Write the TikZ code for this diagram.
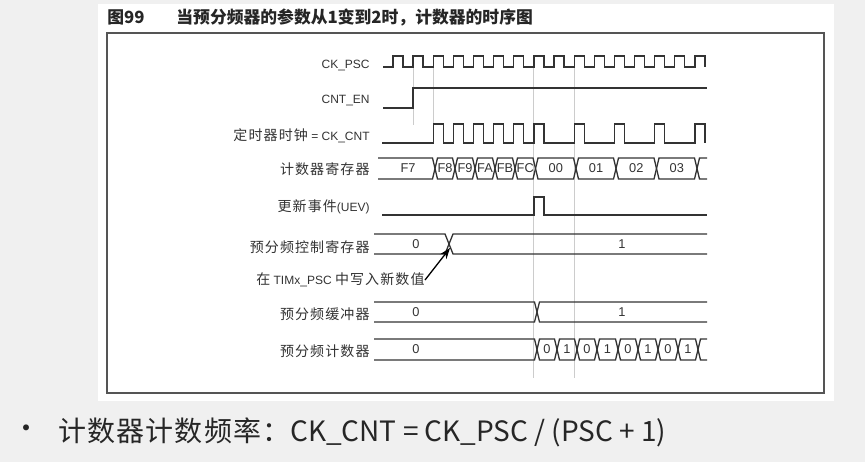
\documentclass[tikz,border=0pt]{standalone}
\usepackage{fontspec}
\setmainfont{Liberation Sans}
\newfontfamily\cjk{Noto Sans CJK SC}
\newfontfamily\cjklb{Noto Sans CJK SC}[LetterSpace=8]
\newfontfamily\cjkwide{Noto Sans CJK SC}[LetterSpace=4]
\usetikzlibrary{arrows.meta, positioning, calc}
\definecolor{pageGray}{HTML}{F0F0F0}
\definecolor{lineDark}{HTML}{333333}
\definecolor{frameGray}{HTML}{555555}
\definecolor{guideGray}{HTML}{CCCCCC}
\definecolor{textDark}{HTML}{262626}

\newcommand\zh[1]{{\cjklb\fontsize{7}{8}\selectfont #1}}
% bus value: from, to, mid y, value, name
\newcommand\busval[5]{%
  \draw[wave] (#1,#3) -- (#1+\bh,#3-\bv) -- (#2-\bh,#3-\bv) -- (#2,#3)
    -- (#2-\bh,#3+\bv) -- (#1+\bh,#3+\bv) -- cycle;
  \node[val] (#5) at ({(#1+#2)/2},#3) {#4};}
% bus open on the left / on the right: from, to, mid y
\newcommand\busopen[3]{%
  \draw[wave] (#1,#3-\bv) -- (#2-\bh,#3-\bv) -- (#2,#3) -- (#2-\bh,#3+\bv) -- (#1,#3+\bv);}
\newcommand\busclose[3]{%
  \draw[wave] (#2,#3-\bv) -- (#1+\bh,#3-\bv) -- (#1,#3) -- (#1+\bh,#3+\bv) -- (#2,#3+\bv);}

\begin{document}
\begin{tikzpicture}[x=0.5pt, y=-0.5pt,
    wave/.style={draw=lineDark, line width=0.65pt},
    guide/.style={draw=guideGray, line width=0.5pt},
    sig/.style={anchor=east, font=\fontsize{6}{7}\selectfont, text=lineDark, inner sep=0pt},
    val/.style={font=\fontsize{6.4}{7}\selectfont, text=lineDark, inner sep=0pt},
    head/.style={anchor=west, font=\cjk\bfseries\fontsize{8.4}{10}\selectfont, text=textDark, inner sep=0pt},
    note/.style={font=\cjk\fontsize{14}{16}\selectfont, text=textDark, inner sep=0pt},
  ]
  \fill[pageGray] (0,0) rectangle (865,462);
  \fill[white] (98,4) rectangle (834,401);
  \draw[frameGray, line width=1pt] (107,33) rectangle (824,393);

  \node[head] (figNo) at (107,17) {图99};
  \node[head] (figTitle) at (176,17) {当预分频器的参数从1变到2时，计数器的时序图};

  \def\T{20.13}
  \foreach \k/\yb in {1/125, 2/124, 7/378, 9/378}
    \draw[guide] ({393+\T*\k},67) -- ({393+\T*\k},\yb);

  % clocks and single lines
  \draw[wave] (383,67) foreach \k in {0,...,15} {
    -- ({393+\T*\k},67) -- ({393+\T*\k},56) -- ({403+\T*\k},56) -- ({403+\T*\k},67) };
  \draw[wave] (383,108) -- ({393+\T},108) -- ({393+\T},88) -- (707,88);
  \draw[wave] (382,143) foreach \k in {2,3,4,5,6,7,9,11,13,15} {
    -- ({393+\T*\k},143) -- ({393+\T*\k},124) -- ({403+\T*\k},124) -- ({403+\T*\k},143) };
  \draw[wave] (382,215) -- ({393+\T*7},215) -- ({393+\T*7},197)
    -- ({403+\T*7},197) -- ({403+\T*7},215) -- (707,215);

  % counter register
  \def\bh{2.5}\def\bv{10.5}
  \busopen{378}{435}{168.5}
  \node[val] (cntF7) at (408,168.5) {F7};
  \foreach \a/\b/\v [count=\i] in {435/455/F8, 455/475/F9, 475/495/FA, 495/515/FB,
      515/535.5/FC, 535.5/576/00, 576/616/01, 616/656.5/02, 656.5/697/03}
    {\busval{\a}{\b}{168.5}{\v}{cnt\i}}
  \busclose{697}{707}{168.5}

  % prescaler control register
  \def\bh{4}\def\bv{10}
  \busopen{374}{449}{244}
  \busclose{449}{707}{244}
  \node[val] (ctl0) at (416,244) {0};
  \node[val] (ctl1) at (622,244) {1};

  % prescaler buffer
  \def\bh{2.5}
  \busopen{374}{537}{312}
  \busclose{537}{707}{312}
  \node[val] (buf0) at (416,312) {0};
  \node[val] (buf1) at (622,312) {1};

  % prescaler counter
  \def\bv{10.5}
  \busopen{374}{537}{349.5}
  \node[val] (pc0) at (416,349.5) {0};
  \foreach \a/\b/\v [count=\i] in {537/557/0, 557/577/1, 577/597/0, 597/618/1,
      618/638/0, 638/658/1, 658/678/0, 678/698/1}
    {\busval{\a}{\b}{349.5}{\v}{pc\i}}
  \busclose{698}{707}{349.5}

  \node[sig] (lbPsc) at (370,65) {CK\_PSC};
  \node[sig] (lbEn) at (370,100) {CNT\_EN};
  \node[sig] (lbCnt) at (370,136) {\zh{定时器时钟} = CK\_CNT};
  \node[sig] (lbReg) at (370,169) {\zh{计数器寄存器}};
  \node[sig] (lbUev) at (370,207) {\zh{更新事件}(UEV)};
  \node[sig] (lbCtl) at (370,247) {\zh{预分频控制寄存器}};
  \node[sig] (lbWr) at (425,280) {\zh{在} TIMx\_PSC \zh{中写入新数值}};
  \node[sig] (lbBuf) at (370,314) {\zh{预分频缓冲器}};
  \node[sig] (lbPcn) at (370,351) {\zh{预分频计数器}};

  \coordinate (wrTip) at (450,248);
  \draw[wave, draw=black, -{Stealth[length=5.5pt, width=4pt]}] (lbWr.east) -- (wrTip);

  \node[note] (dot) at (26,432) {•};
  \node[note, anchor=west] (formula) at (58,432) {{\cjkwide 计数器计数频率：}CK\_CNT = CK\_PSC / (PSC + 1)};
\end{tikzpicture}
\end{document}
